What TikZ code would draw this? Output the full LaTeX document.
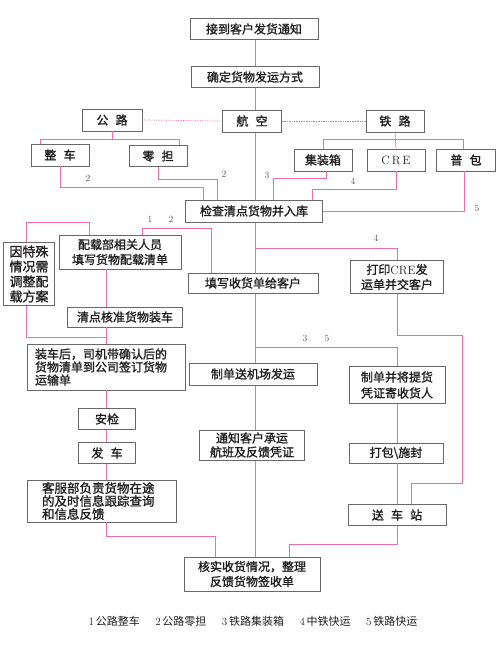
\documentclass[tikz,border=0pt]{standalone}
\usepackage{fontspec}
\newfontfamily\cjk[AutoFakeBold=1.3]{Noto Sans CJK SC}
\definecolor{lnpink}{RGB}{238,110,170}
\definecolor{boxgray}{RGB}{105,105,105}
\definecolor{txtgray}{RGB}{30,30,30}
\newcommand{\kgap}{\hspace{0.6em}}
\newcommand{\keyno}[1]{{\rmfamily #1}\,}
\pgfdeclarelayer{bg}
\pgfsetlayers{bg,main}

\begin{document}
\begin{tikzpicture}[x=1pt,y=-1pt,
  box/.style={draw=boxgray,line width=0.8pt,fill=white,inner sep=0pt,text=txtgray,
    font=\cjk\bfseries\fontsize{12}{15}\selectfont},
  link/.style={draw=lnpink,line width=0.7pt},
  num/.style={text=gray!70!black,font=\rmfamily\fontsize{9.5}{10}\selectfont}]
\useasboundingbox (0,0) rectangle (500,653);
\coordinate (spine) at (255.5,0);
% top of the chart
\node[box,minimum width=128,minimum height=21] (tz) at (254,29) {接到客户发货通知};
\node[box,minimum width=128,minimum height=21] (qd) at (255,77) {确定货物发运方式};
\node[box,minimum width=60,minimum height=22] (gl) at (112,120) {公\kgap 路};
\node[box,minimum width=59,minimum height=22] (hk) at (252,121) {航\kgap 空};
\node[box,minimum width=58,minimum height=22] (tl) at (395,121) {铁\kgap 路};
\node[box,minimum width=58,minimum height=22] (zc) at (60,155) {整\kgap 车};
\node[box,minimum width=58,minimum height=21] (ld) at (158,156) {零\kgap 担};
\node[box,minimum width=58,minimum height=22] (jzx) at (323,160) {集装箱};
\node[box,minimum width=58,minimum height=22] (cre) at (396,160) {{\rmfamily\mdseries C\,R\,E}};
\node[box,minimum width=59,minimum height=22] (pb) at (466,160) {普\kgap 包};
\node[box,minimum width=137,minimum height=22] (jc) at (254,211) {检查清点货物并入库};
% road branch
\node[box,minimum width=51,minimum height=63,align=center,font=\cjk\bfseries\fontsize{13}{15}\selectfont] (ts) at (29,274) {因特殊\\情况需\\调整配\\载方案};
\node[box,minimum width=122,minimum height=34,align=center] (pz) at (120,252) {配载部相关人员\\填写货物配载清单};
\node[box,minimum width=115,minimum height=20] (ql) at (125,317) {清点核准货物装车};
\node[box,text width=142,inner xsep=8pt,minimum height=46,align=left,font=\cjk\bfseries\fontsize{12}{13}\selectfont] (zz) at (106,367) {装车后，司机带确认后的\\货物清单到公司签订货物\\运输单};
\node[box,minimum width=57,minimum height=21] (aj) at (107,419) {安检};
\node[box,minimum width=57,minimum height=21] (fc) at (107,453) {发\kgap 车};
\node[box,text width=120,inner xsep=14.5pt,minimum height=42,align=left,font=\cjk\bfseries\fontsize{12.5}{13}\selectfont] (kf) at (102,501) {客服部负责货物在途\\的及时信息跟踪查询\\和信息反馈};
% air branch
\node[box,minimum width=130,minimum height=20] (tx) at (253,283) {填写收货单给客户};
\node[box,minimum width=128,minimum height=22] (zd) at (253,374) {制单送机场发运};
\node[box,minimum width=105,minimum height=30,align=center,font=\cjk\bfseries\fontsize{12}{14}\selectfont] (tk) at (252,445) {通知客户承运\\航班及反馈凭证};
% rail branch
\node[box,minimum width=93,minimum height=33,align=center] (dy) at (397,277) {打印{\rmfamily\mdseries CRE}发\\运单并交客户};
\node[box,minimum width=96,minimum height=37,align=center,font=\cjk\bfseries\fontsize{12}{16}\selectfont] (zj) at (397,385) {制单并将提货\\凭证寄收货人};
\node[box,minimum width=94,minimum height=20] (db) at (396,453) {打包\textbackslash 施封};
\node[box,minimum width=98,minimum height=21] (sz) at (397,515) {送\kgap 车\kgap 站};
\node[box,minimum width=136,minimum height=34,align=center] (hs) at (252,574) {核实收货情况，整理\\反馈货物签收单};

\begin{pgfonlayer}{bg}
\draw[link] (tz.south -| spine) -- (hs.north -| spine);
\end{pgfonlayer}

% modes of transport
\draw[link,densely dotted] (gl.east) -- (hk.west);
\draw[link,densely dotted] (hk.east) -- (tl.west);
\draw[link] (gl.south) -- ++(0,9);
\draw[link] ([xshift=-20pt]zc.north) -- ++(0,-4) -| ([xshift=21pt]ld.north);
\draw[link] (tl.south) -- (cre.north);
\draw[link] (jzx.north) -- ++(0,-9) -| ([xshift=-3pt]pb.north);

% into the store
\draw[link] (zc.south) -- ++(0,21) -| ([xshift=-51pt]jc.north);
\draw[link] (ld.south) -- ++(0,12) -| ([xshift=-37pt]jc.north);
\draw[link] ([xshift=3pt]jzx.south) -- ++(0,7) -| ([xshift=19pt]jc.north);
\draw[link] (cre.south) -- ++(0,18) -| ([xshift=58pt]jc.north);
\draw[link] ([xshift=-2pt]pb.south) |- (jc.east);
\node[num] (n2a) at (88,178) {2};
\node[num] (n2b) at (224,174) {2};
\node[num] (n3a) at (267,175) {3};
\node[num] (n4a) at (353,181) {4};
\node[num] (n5a) at (477,208) {5};
\node[num] (n1b) at (150,219) {1};
\node[num] (n2c) at (171,219) {2};

% road
\draw[link] ([xshift=22pt]pz.north) -- ++(0,-6) -| ([xshift=-42pt]tx.north);
\draw[link] ([xshift=-3pt]ts.north) -- ++(0,-20) -| ([xshift=-31pt]pz.north);
\draw[link] ([xshift=-14pt]pz.south) -- ([xshift=-14pt]pz.south |- ql.north);
\draw[link] (ql.south -| zz.north) -- (zz.north);
\draw[link] ([xshift=-3pt]ts.south) -- ++(0,31) -| (zz.north);
\draw[link] (zz.south) -- (zz.south |- aj.north);
\draw[link] (aj.south -| zz.south) -- (fc.north -| zz.south);
\draw[link] (fc.south -| zz.south) -- (kf.north -| zz.south);
\draw[link] (kf.south -| zz.south) -- ++(0,14) -| ([xshift=-37pt]hs.north);

% rail
\draw[link] (spine |- 0,248) -| (dy.north);
\node[num] (n4b) at (376,238) {4};
\draw[link] (dy.south) -- ++(0,41) -| (462,483) -| ([xshift=14pt]sz.north);
\draw[link] (spine |- 0,347) -| (zj.north);
\node[num] (n3b) at (305,338) {3};
\node[num] (n5b) at (327,338) {5};
\draw[link] (zj.south) -- (db.north -| zj.south);
\draw[link] (db.south -| zj.south) -- (sz.north -| zj.south);
\draw[link] (sz.south) -- ++(0,18) -| ([xshift=37pt]hs.north);

% key
\node[text=txtgray,font=\cjk\fontsize{11}{12}\selectfont] (key) at (253,621)
  {\keyno{1}公路整车\hspace{1.4em}\keyno{2}公路零担\hspace{1.4em}\keyno{3}铁路集装箱\hspace{1.4em}\keyno{4}中铁快运\hspace{1.4em}\keyno{5}铁路快运};
\end{tikzpicture}
\end{document}
